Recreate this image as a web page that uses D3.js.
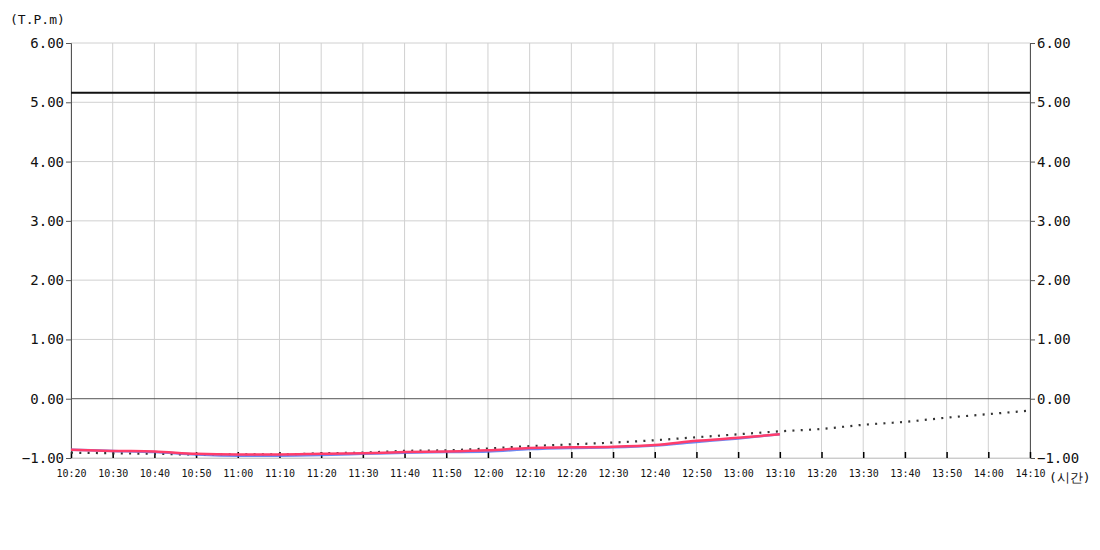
<!DOCTYPE html>
<html><head><meta charset="utf-8">
<script src="https://cdn.jsdelivr.net/npm/d3@7/dist/d3.min.js"></script>
<style>body{margin:0;background:#fff;} svg{display:block;} text{font-family:"DejaVu Sans Mono",monospace;fill:#111;}</style>
</head><body>
<svg id="c" width="1100" height="550"></svg>
<script>
const timeLabels = ["10:20","10:30","10:40","10:50","11:00","11:10","11:20","11:30","11:40","11:50","12:00","12:10","12:20","12:30","12:40","12:50","13:00","13:10","13:20","13:30","13:40","13:50","14:00","14:10"];
const yTicks = [-1,0,1,2,3,4,5,6];
const limitLevel = 5.16;
const observedTimes = ["10:20","10:30","10:40","10:50","11:00","11:10","11:20","11:30","11:40","11:50","12:00","12:10","12:20","12:30","12:40","12:50","13:00","13:10"];
const redValues = [-0.86,-0.88,-0.89,-0.93,-0.94,-0.94,-0.93,-0.92,-0.90,-0.89,-0.87,-0.83,-0.82,-0.81,-0.78,-0.71,-0.66,-0.60];
const blueValues = [-0.86,-0.88,-0.90,-0.94,-0.96,-0.96,-0.95,-0.93,-0.91,-0.90,-0.89,-0.85,-0.83,-0.82,-0.79,-0.73,-0.67,-0.60];
const forecastTimes = timeLabels;
const forecastValues = [-0.91,-0.92,-0.93,-0.94,-0.94,-0.94,-0.92,-0.91,-0.88,-0.87,-0.84,-0.80,-0.77,-0.74,-0.70,-0.65,-0.60,-0.55,-0.51,-0.44,-0.39,-0.32,-0.26,-0.20];

const toMin = s => { const [h,m] = s.split(":").map(Number); return h*60+m; };
const svg = d3.select("#c");
const L = 71, R = 1030, T = 43, B = 458;
const x = d3.scaleLinear().domain([toMin("10:20"), toMin("14:10")]).range([L, R]);
const y = d3.scaleLinear().domain([-1, 6]).range([B, T]);

// grid
svg.append("g").selectAll("line.v").data(timeLabels).join("line")
  .attr("x1", d => x(toMin(d))).attr("x2", d => x(toMin(d)))
  .attr("y1", T).attr("y2", B).attr("stroke", "#d0d0d0").attr("stroke-width", 1);
svg.append("g").selectAll("line.h").data(yTicks).join("line")
  .attr("x1", L).attr("x2", R).attr("y1", d => y(d)).attr("y2", d => y(d))
  .attr("stroke", d => d === 0 ? "#555" : "#d0d0d0").attr("stroke-width", 1);

// y axes
const fmt = d3.format(".2f");
const yl = svg.append("g").attr("transform", `translate(${L},0)`)
  .call(d3.axisLeft(y).tickValues(yTicks).tickFormat(fmt).tickSize(5).tickPadding(2));
const yr = svg.append("g").attr("transform", `translate(${R},0)`)
  .call(d3.axisRight(y).tickValues(yTicks).tickFormat(fmt).tickSize(5).tickPadding(2));
[yl, yr].forEach(g => {
  g.select(".domain").attr("stroke", "#555");
  g.selectAll(".tick line").attr("stroke", "#555");
  g.selectAll(".tick text").attr("font-size", 14).attr("font-family", "DejaVu Sans Mono").attr("fill", "#111");
});

// x axis (ticks inward)
const xa = svg.append("g").attr("transform", `translate(0,${B})`)
  .call(d3.axisBottom(x).tickValues(timeLabels.map(toMin)).tickFormat((d,i) => timeLabels[i]).tickSizeInner(-6).tickSizeOuter(0).tickPadding(12));
xa.select(".domain").attr("stroke", "#ccc");
xa.selectAll(".tick line").attr("stroke", "#000").attr("stroke-width", 1.5);
xa.selectAll(".tick text").attr("font-size", 10).attr("font-family", "DejaVu Sans Mono").attr("fill", "#111");

// limit line
svg.append("line").attr("x1", L).attr("x2", R).attr("y1", y(limitLevel)).attr("y2", y(limitLevel))
  .attr("stroke", "#111").attr("stroke-width", 2);

const line = d3.line().x(d => x(toMin(d[0]))).y(d => y(d[1])).curve(d3.curveMonotoneX);

svg.append("path").datum(forecastTimes.map((t,i) => [t, forecastValues[i]]))
  .attr("d", line).attr("fill", "none").attr("stroke", "#333").attr("stroke-width", 2.2)
  .attr("stroke-dasharray", "2,6.3");
svg.append("path").datum(observedTimes.map((t,i) => [t, blueValues[i]]))
  .attr("d", line).attr("fill", "none").attr("stroke", "#4a6cf0").attr("stroke-opacity", 0.8).attr("stroke-width", 2.5);
svg.append("path").datum(observedTimes.map((t,i) => [t, redValues[i]]))
  .attr("d", line).attr("fill", "none").attr("stroke", "#ff3d6b").attr("stroke-width", 2.5);

// labels
svg.append("text").attr("x", 10).attr("y", 24).attr("font-size", 13).text("(T.P.m)");
svg.append("text").attr("x", 1049).attr("y", 482).attr("font-size", 13).text("(시간)");
</script>
</body></html>
